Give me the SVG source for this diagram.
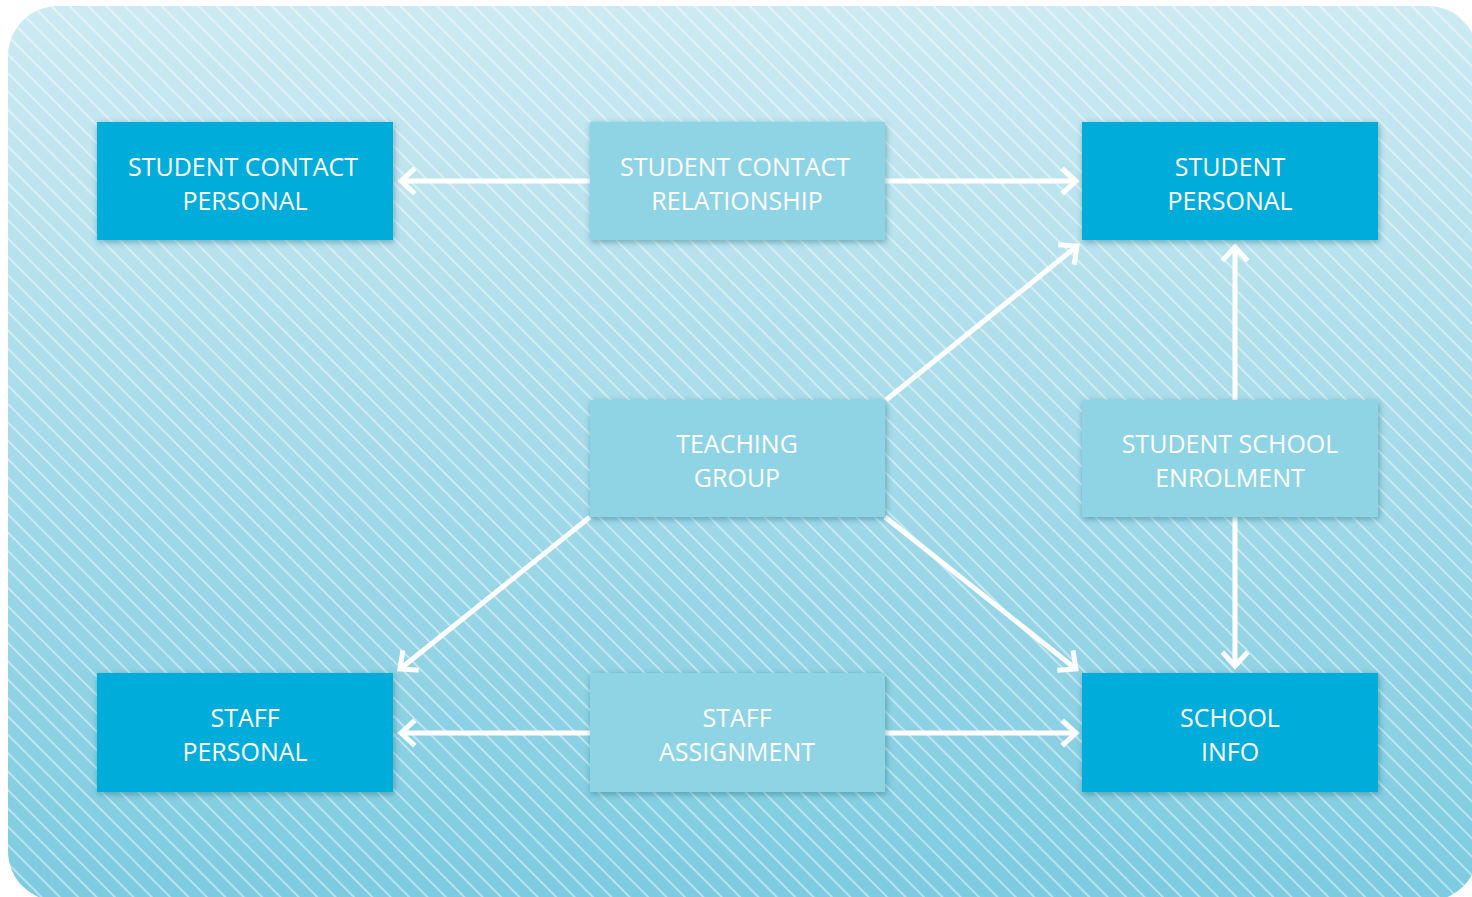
<svg xmlns="http://www.w3.org/2000/svg" width="1472" height="897" viewBox="0 0 1472 897">
<style>
.dark{fill:#02acda}
.light{fill:#8fd4e4}
.box{filter:url(#sh)}
.lbl{font-family:"Open Sans","Noto Sans",sans-serif;font-size:25px;fill:#ffffff;text-anchor:middle}
.con{stroke:#ffffff;stroke-width:5;fill:none;marker-end:url(#ah)}
</style>
<defs>
<linearGradient id="bg" x1="0" y1="0" x2="0" y2="1">
<stop offset="0" stop-color="#cdeaf2"/>
<stop offset="1" stop-color="#7ccbe0"/>
</linearGradient>
<pattern id="stripes" width="13" height="13" patternUnits="userSpaceOnUse" patternTransform="rotate(-45)">
<line x1="6" y1="0" x2="6" y2="13" stroke="#ffffff" stroke-opacity="0.55" stroke-width="1.6"/>
</pattern>
<filter id="sh" x="-10%" y="-20%" width="120%" height="140%">
<feDropShadow dx="1" dy="2" stdDeviation="3" flood-color="#1d5a6a" flood-opacity="0.45"/>
</filter>
<marker id="ah" markerUnits="userSpaceOnUse" markerWidth="30" markerHeight="30" viewBox="-16 -15 20 30" refX="0" refY="0" orient="auto">
<path d="M-12,-11 L0,0 L-12,11" stroke="#ffffff" stroke-width="5" fill="none" stroke-linecap="square"/>
</marker>
</defs>
<rect x="8" y="6" width="1470" height="895" rx="50" fill="url(#bg)"/>
<rect x="8" y="6" width="1470" height="895" rx="50" fill="url(#stripes)"/>
<g id="connectors">
<line class="con" x1="590" y1="181" x2="401" y2="181"/>
<line class="con" x1="885" y1="181" x2="1076" y2="181"/>
<line class="con" x1="886" y1="400" x2="1077" y2="246"/>
<line class="con" x1="1235" y1="400" x2="1235" y2="247"/>
<line class="con" x1="1235" y1="517" x2="1235" y2="666"/>
<line class="con" x1="590" y1="517" x2="400" y2="669"/>
<line class="con" x1="885" y1="517" x2="1076" y2="669"/>
<line class="con" x1="590" y1="733" x2="401" y2="733"/>
<line class="con" x1="885" y1="733" x2="1076" y2="733"/>
</g>
<g id="student-contact-personal">
<rect class="box dark" x="97" y="122" width="296" height="118"/>
<text class="lbl" x="243" y="176">STUDENT CONTACT</text>
<text class="lbl" x="245" y="210">PERSONAL</text>
</g>
<g id="student-contact-relationship">
<rect class="box light" x="590" y="122" width="295" height="118"/>
<text class="lbl" x="735" y="176">STUDENT CONTACT</text>
<text class="lbl" x="737" y="210">RELATIONSHIP</text>
</g>
<g id="student-personal">
<rect class="box dark" x="1082" y="122" width="296" height="118"/>
<text class="lbl" x="1230" y="176">STUDENT</text>
<text class="lbl" x="1230" y="210">PERSONAL</text>
</g>
<g id="teaching-group">
<rect class="box light" x="590" y="400" width="295" height="117"/>
<text class="lbl" x="737" y="453">TEACHING</text>
<text class="lbl" x="737" y="487">GROUP</text>
</g>
<g id="student-school-enrolment">
<rect class="box light" x="1082" y="400" width="296" height="117"/>
<text class="lbl" x="1230" y="453">STUDENT SCHOOL</text>
<text class="lbl" x="1230" y="487">ENROLMENT</text>
</g>
<g id="staff-personal">
<rect class="box dark" x="97" y="673" width="296" height="119"/>
<text class="lbl" x="245" y="727">STAFF</text>
<text class="lbl" x="245" y="761">PERSONAL</text>
</g>
<g id="staff-assignment">
<rect class="box light" x="590" y="673" width="295" height="119"/>
<text class="lbl" x="737" y="727">STAFF</text>
<text class="lbl" x="737" y="761">ASSIGNMENT</text>
</g>
<g id="school-info">
<rect class="box dark" x="1082" y="673" width="296" height="119"/>
<text class="lbl" x="1230" y="727">SCHOOL</text>
<text class="lbl" x="1230" y="761">INFO</text>
</g>
</svg>
